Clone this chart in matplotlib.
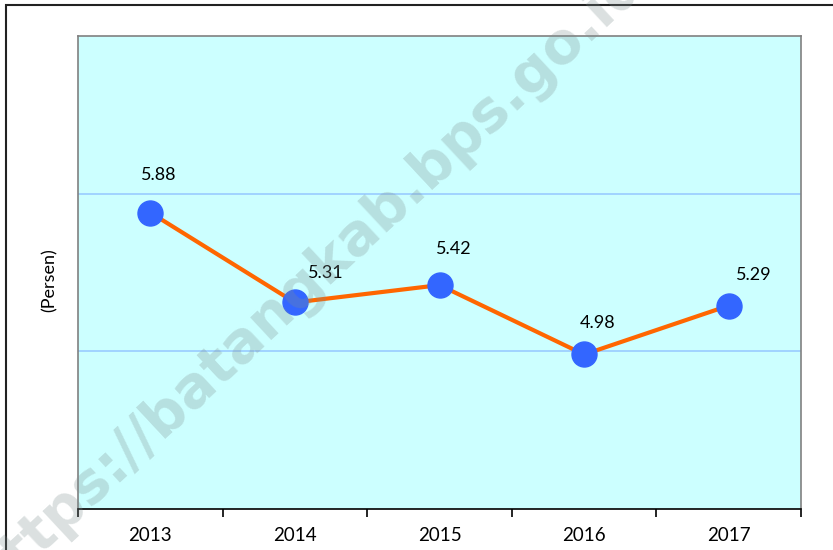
import numpy as np
import matplotlib
matplotlib.use("Agg")
import matplotlib.pyplot as plt
from matplotlib.patches import Rectangle

years = ["2013", "2014", "2015", "2016", "2017"]
values = [5.88, 5.31, 5.42, 4.98, 5.29]
# label offsets in points (dx, dy) relative to each marker
offsets = [(6, 27), (22, 21), (10, 26), (10, 23), (18, 22)]

plt.rcParams["font.family"] = ["Lato", "DejaVu Sans"]
fig = plt.figure(figsize=(8.33, 5.5), dpi=100)
ax = fig.add_axes([78 / 833, 1 - 509 / 550, 723 / 833, 473 / 550])
ax.set_facecolor("#CCFFFF")

x = np.arange(len(years))
ax.plot(x, values, color="#FF6600", lw=3, zorder=3)
ax.plot(x, values, "o", ms=18, color="#3366FF", mec="#3366FF", zorder=4)
for xi, v, (dx, dy) in zip(x, values, offsets):
    ax.annotate(f"{v:.2f}", (xi, v), xytext=(dx, dy), textcoords="offset points",
                ha="center", va="center", fontsize=13, color="black", zorder=5)

ax.set_xlim(-0.5, len(years) - 0.5)
ax.set_ylim(4, 7)
ax.set_yticks([])
for g in [5, 6]:
    ax.axhline(g, color="#99CCFF", lw=1.2, zorder=1)

ax.set_xticks(np.arange(-0.5, len(years), 1))
ax.set_xticklabels([])
ax.set_xticks(x, minor=True)
ax.set_xticklabels(years, minor=True, fontsize=13.5)
ax.tick_params(axis="x", which="major", length=6, width=1.2, color="black", direction="out")
ax.tick_params(axis="x", which="minor", length=0, pad=13)
for s in ["top", "right", "left"]:
    ax.spines[s].set_color("#808080")
    ax.spines[s].set_linewidth(1.2)
ax.spines["bottom"].set_color("black")
ax.spines["bottom"].set_linewidth(1.2)

fig.text(50 / 833, 1 - 280 / 550, "(Persen)", rotation=90, ha="center", va="center", fontsize=13)

# outer frame
fig.patches.append(Rectangle((6 / 833, -0.1), 1.2, 1 - 5 / 550 + 0.1, transform=fig.transFigure,
                             fill=False, edgecolor="#222222", lw=1.5))

# watermark
fig.text(0.37, 0.49, "https://batangkab.bps.go.id", rotation=43, ha="center", va="center",
         fontsize=41, fontweight="bold", color="#7f8f8f", alpha=0.28, family="DejaVu Sans", zorder=10)

fig.savefig("out.png", dpi=100)
